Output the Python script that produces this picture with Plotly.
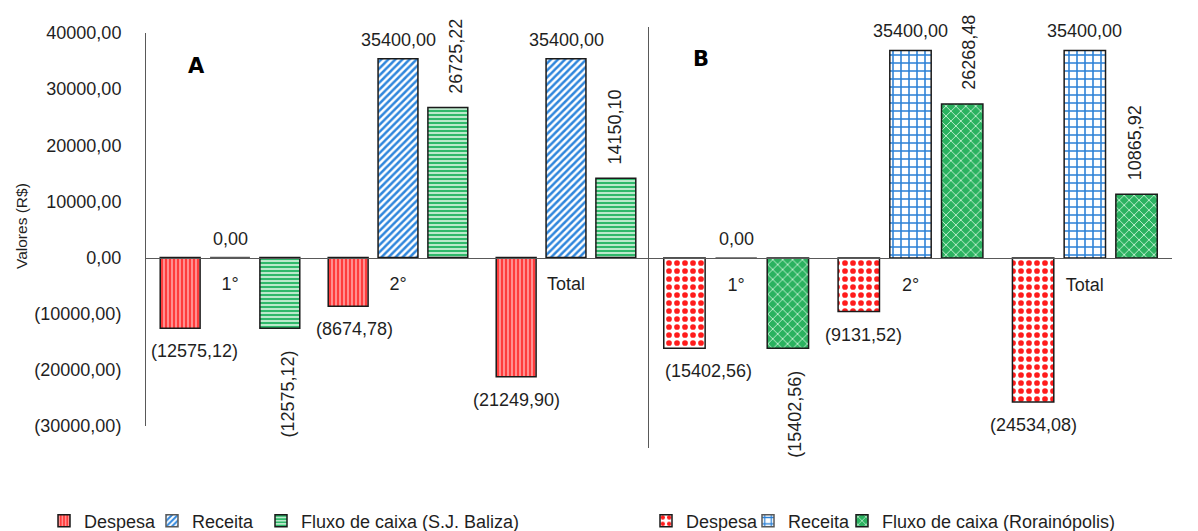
import plotly.graph_objects as go

# --- data -------------------------------------------------------------
categorias = ["1°", "2°", "Total"]

despesa_sjb = [-12575.12, -8674.78, -21249.90]
receita_sjb = [0.00, 35400.00, 35400.00]
fluxo_sjb = [-12575.12, 26725.22, 14150.10]

despesa_ror = [-15402.56, -9131.52, -24534.08]
receita_ror = [0.00, 35400.00, 35400.00]
fluxo_ror = [-15402.56, 26268.48, 10865.92]

y_ticks = [40000, 30000, 20000, 10000, 0, -10000, -20000, -30000]


def fmt(v):
    s = f"{abs(v):.2f}".replace(".", ",")
    return f"({s})" if v < 0 else s


# --- layout geometry (pixels of the 1198 x 531 page) --------------------
W, H = 1198, 531
FONT = "Liberation Sans, Arial, sans-serif"
TXT = "#1f1f1f"
AXC = "#595959"
EDGE = "#1a1a1a"
BARGAP, GROUPGAP = 0.11, 0.2


def px_x(p):
    return p / W


def px_y(p):
    return 1 - p / H


panels = {
    "A": dict(xdom=(px_x(146), px_x(650)), ydom=(px_y(426), px_y(33)),
              yrange=(-30000, 40000)),
    "B": dict(xdom=(px_x(649), px_x(1172)), ydom=(px_y(448), px_y(27)),
              yrange=(-32400, 39400)),
}

styles = {
    "despesa_A": dict(shape="|", bgcolor="#ff3c3c", fgcolor="#ffb4b4", size=4, solidity=0.35),
    "receita_A": dict(shape="/", bgcolor="#ffffff", fgcolor="#2f86dc", size=5, solidity=0.5),
    "fluxo_A": dict(shape="-", bgcolor="#c9efd6", fgcolor="#2fb86a", size=4, solidity=0.55),
    "despesa_B": dict(shape=".", bgcolor="#ffffff", fgcolor="#ff1c1c", size=8, solidity=0.4),
    "receita_B": dict(shape="+", bgcolor="#ffffff", fgcolor="#2a80d6", size=8, solidity=0.35),
    "fluxo_B": dict(shape="x", bgcolor="#2bb260", fgcolor="#c4efd2", size=7, solidity=0.25),
}
base_colors = {"despesa": "#ff3c3c", "receita": "#2f86dc", "fluxo": "#2fb86a"}

# small horizontal nudges of value labels, per series and category
label_nudge = {
    "A": {"despesa": [14, 6, 0], "receita": [0, 0, 0], "fluxo": [8, 8, -1]},
    "B": {"despesa": [24, 5, 0], "receita": [0, 0, 0], "fluxo": [7, 7, -2]},
}

# legend entry widths (text area, px)
legend_width = {
    "A": {"despesa": 63, "receita": 64, "fluxo": None},
    "B": {"despesa": 57, "receita": 49, "fluxo": None},
}

series = {
    "A": [("despesa", "Despesa", despesa_sjb),
          ("receita", "Receita", receita_sjb),
          ("fluxo", "Fluxo de caixa (S.J. Baliza)", fluxo_sjb)],
    "B": [("despesa", "Despesa", despesa_ror),
          ("receita", "Receita", receita_ror),
          ("fluxo", "Fluxo de caixa (Rorainópolis)", fluxo_ror)],
}

fig = go.Figure()
annotations = []

for k, (panel, cfg) in enumerate(panels.items()):
    xa = "x" if k == 0 else "x2"
    ya = "y" if k == 0 else "y2"
    leg = "legend" if k == 0 else "legend2"

    cat_w = (cfg["xdom"][1] - cfg["xdom"][0]) * W / len(categorias)
    slot = cat_w * (1 - BARGAP) / 3

    for s, (key, name, vals) in enumerate(series[panel]):
        pat = styles[f"{key}_{panel}"]
        trace = go.Bar(
            x=categorias, y=vals, name=name, xaxis=xa, yaxis=ya, legend=leg,
            marker=dict(color=base_colors[key],
                        # a zero-height bar blends into the zero axis line
                        line=dict(color=[EDGE if v != 0 else AXC for v in vals],
                                  width=1.5),
                        pattern=dict(fillmode="replace", **pat)),
            hoverinfo="skip",
        )
        if legend_width[panel][key]:
            trace.legendwidth = legend_width[panel][key]
        fig.add_trace(trace)

        for j, v in enumerate(vals):
            shift = (s - 1) * slot + label_nudge[panel][key][j]
            if key == "fluxo":
                annotations.append(dict(
                    x=categorias[j], y=v, xref=xa, yref=ya, text=fmt(v),
                    showarrow=False, textangle=-90, xshift=shift,
                    xanchor="center",
                    yanchor="bottom" if v > 0 else "top",
                    yshift=12 if v > 0 else -20,
                    font=dict(family=FONT, size=18, color=TXT)))
            else:
                annotations.append(dict(
                    x=categorias[j], y=v, xref=xa, yref=ya, text=fmt(v),
                    showarrow=False, xshift=shift, xanchor="center",
                    yanchor="middle",
                    yshift=19 if v >= 0 else -23,
                    font=dict(family=FONT, size=18, color=TXT)))

    # horizontal axis drawn through zero
    y0, y1 = cfg["ydom"]
    r0, r1 = cfg["yrange"]
    zero_pos = y0 + (0 - r0) / (r1 - r0) * (y1 - y0)
    xaxis_cfg = dict(domain=cfg["xdom"], anchor="free", position=zero_pos,
                     range=[-0.5, len(categorias) - 0.5],
                     showline=True, linecolor=AXC, linewidth=1, ticks="",
                     showgrid=False,
                     tickfont=dict(family=FONT, size=18, color=TXT),
                     ticklabelstandoff=10, fixedrange=True)
    yaxis_cfg = dict(domain=cfg["ydom"], anchor=xa, range=list(cfg["yrange"]),
                     showline=True, linecolor=AXC, linewidth=1, ticks="",
                     showgrid=False, zeroline=False, fixedrange=True,
                     tickvals=y_ticks, ticktext=[fmt(t) for t in y_ticks],
                     tickfont=dict(family=FONT, size=18, color=TXT),
                     ticklabelstandoff=20, showticklabels=(k == 0))
    if k == 0:
        fig.update_layout(xaxis=xaxis_cfg, yaxis=yaxis_cfg)
    else:
        fig.update_layout(xaxis2=xaxis_cfg, yaxis2=yaxis_cfg)

# axis title and panel letters
annotations.append(dict(x=px_x(21), y=px_y(226), xref="paper", yref="paper",
                        xanchor="center", yanchor="middle",
                        text="Valores (R$)", textangle=-90, showarrow=False,
                        font=dict(family=FONT, size=15.5, color=TXT)))
for letter, (lx, ly) in {"A": (196, 66), "B": (701, 59)}.items():
    annotations.append(dict(x=px_x(lx), y=px_y(ly), xref="paper", yref="paper",
                            xanchor="center", yanchor="middle",
                            text=f"<b>{letter}</b>", showarrow=False,
                            font=dict(family="DejaVu Sans, sans-serif", size=21,
                                      color="#000000")))

legend_common = dict(orientation="h", xanchor="left", yanchor="middle",
                     xref="container", yref="container",
                     y=px_y(521), bgcolor="rgba(0,0,0,0)",
                     font=dict(family=FONT, size=18, color=TXT))

fig.update_layout(
    width=W, height=H, margin=dict(l=0, r=0, t=0, b=0, autoexpand=False),
    paper_bgcolor="white", plot_bgcolor="white",
    barmode="group", bargap=BARGAP, bargroupgap=GROUPGAP,
    showlegend=True,
    legend=dict(x=px_x(44), **legend_common),
    legend2=dict(x=px_x(646), **legend_common),
    annotations=annotations,
)

fig.write_html("out.html")
